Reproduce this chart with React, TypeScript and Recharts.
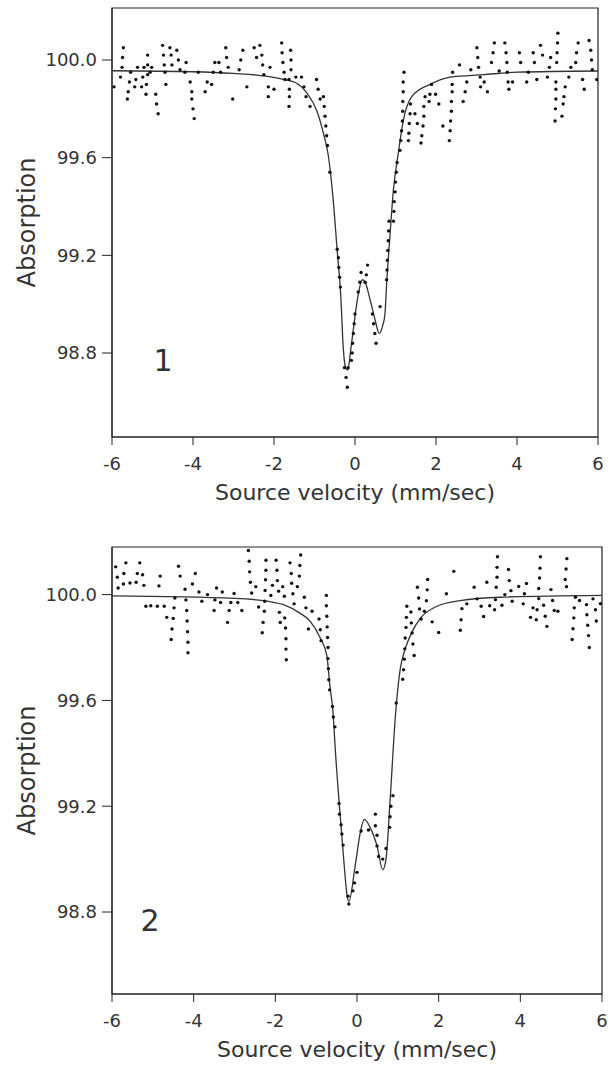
import {
  ComposedChart,
  Line,
  Scatter,
  XAxis,
  YAxis,
  ReferenceArea,
  ReferenceDot,
} from "recharts";

type Pt = [number, number];

const velocityTicks = [-6, -4, -2, 0, 2, 4, 6];
const absorptionTicks = [98.8, 99.2, 99.6, 100.0];

// spectrum 1 measured points (velocity, absorption)
const dots1: Pt[] = [
  [-5.95, 99.89], [-5.79, 99.93], [-5.75, 99.97], [-5.74, 100.01], [-5.72, 100.05], [-5.62, 99.84],
  [-5.6, 99.87], [-5.57, 99.91], [-5.54, 99.95], [-5.44, 99.89], [-5.41, 99.92], [-5.37, 99.97],
  [-5.27, 99.89], [-5.24, 99.93], [-5.21, 99.97], [-5.16, 99.86], [-5.15, 99.9], [-5.12, 99.94],
  [-5.12, 99.98], [-5.12, 100.02], [-5.06, 99.95], [-5.02, 99.97], [-4.92, 99.86], [-4.9, 99.82],
  [-4.86, 99.78], [-4.75, 100.06], [-4.73, 100.02], [-4.71, 99.98], [-4.69, 99.95], [-4.67, 99.9],
  [-4.57, 100.05], [-4.54, 100.02], [-4.52, 99.98], [-4.4, 100.04], [-4.36, 100.0], [-4.32, 99.96],
  [-4.2, 99.95], [-4.17, 99.99], [-4.07, 99.91], [-4.03, 99.87], [-4.03, 99.84], [-4.0, 99.8],
  [-3.97, 99.76], [-3.87, 99.95], [-3.7, 99.87], [-3.65, 99.91], [-3.54, 99.9], [-3.5, 99.95],
  [-3.46, 99.99], [-3.36, 99.99], [-3.32, 99.95], [-3.19, 100.05], [-3.17, 100.01], [-3.13, 99.97],
  [-3.02, 99.84], [-2.86, 99.96], [-2.82, 100.0], [-2.77, 100.04], [-2.67, 99.89], [-2.49, 100.05],
  [-2.43, 100.01], [-2.35, 100.06], [-2.3, 100.02], [-2.28, 99.98], [-2.25, 99.94], [-2.14, 99.89],
  [-2.14, 99.85], [-2.1, 99.97], [-2.0, 99.88], [-1.81, 100.07], [-1.8, 100.03], [-1.78, 99.99],
  [-1.75, 99.95], [-1.73, 99.92], [-1.63, 99.92], [-1.62, 99.88], [-1.62, 99.85], [-1.63, 99.81],
  [-1.59, 100.04], [-1.58, 100.0], [-1.58, 99.96], [-1.46, 99.93], [-1.32, 99.93], [-1.26, 99.89],
  [-1.21, 99.85], [-1.11, 99.81], [-0.95, 99.92], [-0.91, 99.88], [-0.86, 99.84], [-0.78, 99.85],
  [-0.76, 99.81], [-0.74, 99.77], [-0.72, 99.73], [-0.7, 99.69], [-0.68, 99.65], [-0.62, 99.54],
  [-0.44, 99.225], [-0.41, 99.19], [-0.4, 99.15], [-0.38, 99.11], [-0.36, 99.07], [-0.26, 98.74],
  [-0.22, 98.7], [-0.19, 98.66], [-0.17, 98.74], [-0.09, 98.77], [-0.07, 98.8], [-0.06, 98.84],
  [-0.04, 98.88], [-0.02, 98.92], [0.0, 98.96], [0.08, 99.05], [0.12, 99.09], [0.15, 99.13],
  [0.25, 99.09], [0.28, 99.12], [0.31, 99.16], [0.43, 98.96], [0.46, 98.92], [0.49, 98.88],
  [0.52, 98.84], [0.62, 98.99], [0.78, 99.1], [0.79, 99.14], [0.8, 99.18], [0.81, 99.22],
  [0.82, 99.26], [0.83, 99.3], [0.84, 99.34], [0.95, 99.34], [0.96, 99.38], [0.97, 99.42],
  [0.99, 99.46], [1.0, 99.5], [1.02, 99.54], [1.04, 99.58], [1.11, 99.63], [1.13, 99.67],
  [1.15, 99.71], [1.17, 99.75], [1.18, 99.79], [1.18, 99.83], [1.19, 99.87], [1.19, 99.91],
  [1.21, 99.95], [1.32, 99.67], [1.33, 99.7], [1.34, 99.74], [1.36, 99.78], [1.37, 99.82],
  [1.48, 99.78], [1.54, 99.74], [1.63, 99.66], [1.65, 99.69], [1.68, 99.73], [1.7, 99.77],
  [1.7, 99.81], [1.73, 99.85], [1.83, 99.83], [1.85, 99.86], [1.89, 99.9], [1.99, 99.86],
  [2.07, 99.82], [2.17, 99.73], [2.33, 99.67], [2.35, 99.71], [2.36, 99.75], [2.38, 99.79],
  [2.38, 99.83], [2.4, 99.87], [2.4, 99.9], [2.41, 99.95], [2.58, 99.98], [2.67, 99.83],
  [2.72, 99.87], [2.76, 99.91], [2.86, 99.96], [3.01, 100.05], [3.03, 100.01], [3.05, 99.97],
  [3.09, 99.93], [3.1, 99.89], [3.19, 99.91], [3.27, 99.87], [3.37, 99.99], [3.41, 100.03],
  [3.44, 100.07], [3.56, 99.955], [3.7, 100.07], [3.73, 100.03], [3.75, 99.99], [3.76, 99.95],
  [3.78, 99.91], [3.8, 99.88], [3.89, 99.91], [4.06, 100.03], [4.09, 99.99], [4.24, 99.91],
  [4.28, 99.95], [4.4, 100.03], [4.43, 99.99], [4.49, 99.92], [4.58, 100.06], [4.63, 100.02],
  [4.75, 99.93], [4.8, 99.97], [4.83, 100.01], [4.94, 99.75], [4.95, 99.8], [4.96, 99.84],
  [4.96, 99.88], [4.96, 99.91], [4.98, 99.99], [4.99, 100.03], [5.0, 100.07], [5.01, 100.11],
  [5.11, 99.77], [5.14, 99.82], [5.16, 99.85], [5.19, 99.89], [5.28, 99.93], [5.33, 99.97],
  [5.45, 99.99], [5.47, 100.03], [5.51, 100.07], [5.62, 99.92], [5.66, 99.88], [5.78, 100.08],
  [5.82, 100.04], [5.84, 100.0], [5.86, 99.96], [5.97, 99.92],
];

// spectrum 1 fitted curve
const fit1: Pt[] = [
  [-6, 99.956], [-4, 99.952], [-3, 99.945], [-2.2, 99.934], [-1.8, 99.922], [-1.44, 99.905],
  [-1.19, 99.865], [-0.95, 99.795], [-0.78, 99.7], [-0.66, 99.61], [-0.54, 99.43], [-0.44, 99.22],
  [-0.35, 99.03], [-0.29, 98.82], [-0.23, 98.74], [-0.18, 98.73], [-0.1, 98.82], [0.0, 98.95],
  [0.08, 99.04], [0.18, 99.1], [0.25, 99.09], [0.37, 99.02], [0.49, 98.94], [0.6, 98.88],
  [0.68, 98.91], [0.74, 98.96], [0.78, 99.08], [0.85, 99.25], [0.95, 99.47], [1.07, 99.62],
  [1.19, 99.75], [1.4, 99.85], [1.85, 99.9], [2.35, 99.93], [3.17, 99.94], [4.0, 99.95], [6, 99.955],
];

// spectrum 2 measured points
const dots2: Pt[] = [
  [-5.91, 100.105], [-5.87, 100.066], [-5.85, 100.025], [-5.72, 100.04], [-5.71, 100.08], [-5.66, 100.12],
  [-5.56, 100.044], [-5.41, 100.047], [-5.38, 100.08], [-5.32, 100.12], [-5.25, 100.075], [-5.22, 100.035],
  [-5.17, 99.956], [-5.05, 99.958], [-4.89, 99.956], [-4.85, 100.033], [-4.82, 100.07], [-4.72, 99.956],
  [-4.66, 99.914], [-4.55, 99.83], [-4.53, 99.87], [-4.5, 99.91], [-4.48, 99.95], [-4.46, 99.987],
  [-4.37, 100.107], [-4.33, 100.07], [-4.21, 100.02], [-4.19, 99.98], [-4.17, 99.94], [-4.16, 99.9],
  [-4.15, 99.86], [-4.14, 99.82], [-4.14, 99.78], [-4.03, 100.04], [-3.96, 100.08], [-3.87, 100.01],
  [-3.8, 99.975], [-3.66, 100.0], [-3.5, 99.94], [-3.48, 99.98], [-3.44, 100.025], [-3.34, 99.97],
  [-3.3, 100.01], [-3.17, 99.895], [-3.13, 99.94], [-3.09, 99.97], [-3.01, 100.004], [-2.92, 99.97],
  [-2.82, 99.94], [-2.66, 100.167], [-2.64, 100.126], [-2.63, 100.086], [-2.61, 100.047], [-2.58, 100.006],
  [-2.48, 100.03], [-2.41, 99.953], [-2.32, 99.856], [-2.3, 99.895], [-2.27, 99.937], [-2.26, 99.975],
  [-2.25, 100.016], [-2.24, 100.056], [-2.23, 100.092], [-2.23, 100.13], [-2.11, 99.997], [-2.07, 100.035],
  [-1.98, 100.13], [-1.96, 100.092], [-1.95, 100.053], [-1.92, 100.013], [-1.9, 99.933], [-1.88, 99.895],
  [-1.82, 100.03], [-1.78, 99.994], [-1.77, 99.912], [-1.75, 99.874], [-1.74, 99.833], [-1.74, 99.794],
  [-1.73, 99.754], [-1.64, 100.12], [-1.61, 100.08], [-1.6, 100.043], [-1.57, 100.003], [-1.54, 99.965],
  [-1.46, 100.03], [-1.41, 100.07], [-1.4, 100.11], [-1.38, 100.15], [-1.29, 99.99], [-1.25, 99.95],
  [-1.19, 99.87], [-1.1, 99.937], [-0.93, 99.908], [-0.9, 99.867], [-0.88, 99.826], [-0.75, 99.997],
  [-0.75, 99.958], [-0.74, 99.918], [-0.73, 99.878], [-0.72, 99.838], [-0.71, 99.8], [-0.71, 99.758],
  [-0.7, 99.72], [-0.69, 99.678], [-0.67, 99.64], [-0.6, 99.577], [-0.58, 99.537], [-0.54, 99.5],
  [-0.44, 99.21], [-0.43, 99.17], [-0.39, 99.13], [-0.37, 99.095], [-0.34, 99.053], [-0.22, 98.86],
  [-0.2, 98.83], [-0.1, 98.88], [-0.06, 98.91], [0.0, 98.95], [0.1, 99.106], [0.28, 99.11],
  [0.45, 99.17], [0.45, 99.126], [0.49, 99.09], [0.49, 99.05], [0.53, 99.01], [0.63, 99.0],
  [0.71, 99.04], [0.8, 99.12], [0.81, 99.16], [0.83, 99.2], [0.88, 99.24], [0.96, 99.59],
  [1.12, 99.68], [1.14, 99.716], [1.16, 99.756], [1.17, 99.795], [1.18, 99.836], [1.2, 99.876],
  [1.21, 99.914], [1.22, 99.956], [1.32, 99.934], [1.33, 99.893], [1.35, 99.855], [1.37, 99.813],
  [1.4, 99.77], [1.48, 100.028], [1.51, 99.987], [1.53, 99.946], [1.57, 99.908], [1.65, 99.937],
  [1.7, 99.977], [1.72, 100.018], [1.73, 100.057], [1.84, 99.897], [2.0, 99.857], [2.19, 100.003],
  [2.37, 100.088], [2.53, 99.865], [2.55, 99.905], [2.57, 99.947], [2.69, 99.965], [2.87, 100.028],
  [2.94, 99.984], [3.04, 99.956], [3.1, 99.917], [3.18, 100.047], [3.25, 99.958], [3.37, 99.943],
  [3.39, 99.981], [3.41, 100.028], [3.43, 100.066], [3.43, 100.103], [3.44, 100.143], [3.55, 99.96],
  [3.62, 100.0], [3.71, 100.095], [3.73, 100.053], [3.77, 100.015], [3.8, 99.975], [3.96, 100.031],
  [4.07, 99.965], [4.1, 100.003], [4.15, 100.042], [4.25, 99.914], [4.31, 99.95], [4.39, 99.905],
  [4.41, 99.943], [4.45, 99.985], [4.45, 100.023], [4.47, 100.063], [4.48, 100.1], [4.49, 100.143],
  [4.57, 99.96], [4.61, 99.918], [4.65, 99.88], [4.75, 100.019], [4.79, 99.978], [4.83, 99.94],
  [4.92, 99.937], [5.1, 100.057], [5.12, 100.097], [5.14, 100.136], [5.13, 100.03], [5.27, 99.83],
  [5.29, 99.871], [5.31, 99.912], [5.32, 99.95], [5.35, 99.99], [5.45, 99.978], [5.62, 99.962],
  [5.63, 99.924], [5.65, 99.884], [5.67, 99.845], [5.69, 99.8], [5.78, 99.984], [5.84, 99.943],
  [5.86, 99.9], [5.96, 99.966],
];

// spectrum 2 fitted curve
const fit2: Pt[] = [
  [-6, 99.995], [-3, 99.986], [-2.2, 99.975], [-1.8, 99.962], [-1.4, 99.93], [-1.15, 99.9],
  [-0.9, 99.836], [-0.74, 99.77], [-0.66, 99.65], [-0.59, 99.56], [-0.53, 99.41], [-0.41, 99.16],
  [-0.31, 98.97], [-0.25, 98.87], [-0.2, 98.84], [-0.04, 98.98], [0.08, 99.1], [0.18, 99.15],
  [0.32, 99.12], [0.49, 99.05], [0.63, 98.96], [0.71, 99.0], [0.81, 99.22], [0.94, 99.54],
  [1.06, 99.72], [1.16, 99.785], [1.35, 99.86], [1.55, 99.91], [1.96, 99.956], [2.53, 99.977],
  [3.51, 99.99], [6, 99.997],
];

const FONT = "'DejaVu Sans', sans-serif";
const INK = "#222";
const TEXT = "#333";

const toRows = (pts: Pt[]) => pts.map(([x, y]) => ({ x, y }));

const Dot = (props: any) => <circle cx={props.cx} cy={props.cy} r={1.7} fill="#111" />;

interface PanelProps {
  dots: Pt[];
  fit: Pt[];
  tag: string;
  tagAt: Pt;
  domain: [number, number];
  height: number;
  margin: { top: number; right: number; bottom: number; left: number };
}

const Panel = ({ dots, fit, tag, tagAt, domain, height, margin }: PanelProps) => (
  <ComposedChart width={608} height={height} margin={margin}>
    <XAxis
      type="number"
      dataKey="x"
      domain={[-6, 6]}
      ticks={velocityTicks}
      allowDataOverflow
      height={60}
      tickSize={8}
      tickMargin={12}
      stroke={INK}
      tick={{ fill: TEXT, fontSize: 18, fontFamily: FONT }}
      label={{
        content: (p: any) => (
          <text
            x={p.viewBox.x + p.viewBox.width / 2}
            y={p.viewBox.y + 63}
            textAnchor="middle"
            fill={TEXT}
            fontSize={22}
            fontFamily={FONT}
          >
            Source velocity (mm/sec)
          </text>
        ),
      }}
    />
    <YAxis
      type="number"
      dataKey="y"
      domain={domain}
      ticks={absorptionTicks}
      allowDataOverflow
      width={112}
      tickSize={10}
      tickMargin={5}
      stroke={INK}
      tickFormatter={(v: number) => v.toFixed(1)}
      tick={{ fill: TEXT, fontSize: 18, fontFamily: FONT }}
      label={{
        content: (p: any) => {
          const cy = p.viewBox.y + p.viewBox.height / 2;
          return (
            <text
              x={27}
              y={cy}
              transform={`rotate(-90, 27, ${cy})`}
              textAnchor="middle"
              dominantBaseline="central"
              fill={TEXT}
              fontSize={24}
              fontFamily={FONT}
            >
              Absorption
            </text>
          );
        },
      }}
    />
    <ReferenceArea x1={-6} x2={6} y1={domain[0]} y2={domain[1]} fill="none" stroke={INK} strokeWidth={1.2} />
    <Line
      data={toRows(fit)}
      dataKey="y"
      type="monotone"
      stroke="#333"
      strokeWidth={1.3}
      dot={false}
      isAnimationActive={false}
    />
    <Scatter data={toRows(dots)} dataKey="y" shape={Dot} isAnimationActive={false} />
    <ReferenceDot
      x={tagAt[0]}
      y={tagAt[1]}
      r={0}
      stroke="none"
      label={{ value: tag, position: "center", fontSize: 30, fill: TEXT, fontFamily: FONT }}
    />
  </ComposedChart>
);

export default function App() {
  return (
    <div style={{ position: "absolute", left: 0, top: 0, width: 608, height: 1070, background: "#fff" }}>
      <Panel
        dots={dots1}
        fit={fit1}
        tag="1"
        tagAt={[-4.74, 98.77]}
        domain={[98.456, 100.213]}
        height={530}
        margin={{ top: 8, right: 10, bottom: 33, left: 0 }}
      />
      <Panel
        dots={dots2}
        fit={fit2}
        tag="2"
        tagAt={[-5.07, 98.77]}
        domain={[98.49, 100.18]}
        height={540}
        margin={{ top: 17, right: 6, bottom: 16, left: 0 }}
      />
    </div>
  );
}
